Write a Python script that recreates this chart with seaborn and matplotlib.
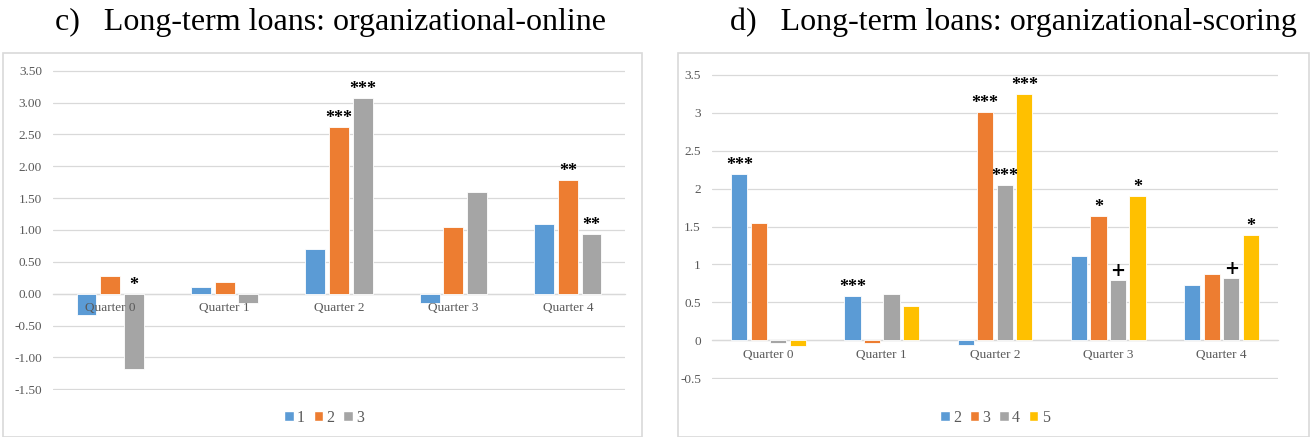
import pandas as pd
import matplotlib.pyplot as plt
import seaborn as sns
from matplotlib.patches import Patch, Rectangle

sns.set_theme(style="white")
plt.rcParams["font.family"] = ["Liberation Serif", "DejaVu Serif"]

quarters = ["Quarter 0", "Quarter 1", "Quarter 2", "Quarter 3", "Quarter 4"]

# panel c) organizational-online
online_series = ["1", "2", "3"]
online_values = {
    "1": [-0.34, 0.11, 0.70, -0.14, 1.09],
    "2": [0.27, 0.19, 2.61, 1.05, 1.79],
    "3": [-1.19, -0.14, 3.07, 1.59, 0.94],
}
online_stars = {
    "1": ["", "", "", "", ""],
    "2": ["", "", "***", "", "**"],
    "3": ["*", "", "***", "", "**"],
}
online_ticks = [-1.5, -1.0, -0.5, 0.0, 0.5, 1.0, 1.5, 2.0, 2.5, 3.0, 3.5]

# panel d) organizational-scoring
scoring_series = ["2", "3", "4", "5"]
scoring_values = {
    "2": [2.19, 0.59, -0.06, 1.11, 0.73],
    "3": [1.54, -0.03, 3.01, 1.64, 0.87],
    "4": [-0.03, 0.61, 2.04, 0.80, 0.82],
    "5": [-0.07, 0.45, 3.25, 1.90, 1.39],
}
scoring_stars = {
    "2": ["***", "***", "", "", ""],
    "3": ["", "", "***", "*", ""],
    "4": ["", "", "***", "+", "+"],
    "5": ["", "", "***", "*", "*"],
}
scoring_ticks = [-0.5, 0, 0.5, 1, 1.5, 2, 2.5, 3, 3.5]

COLORS = ["#5B9BD5", "#ED7D31", "#A5A5A5", "#FFC000"]
GRID = "#D9D9D9"
TXT = "#595959"


def long_df(series, values):
    rows = []
    for s in series:
        for q, v in zip(quarters, values[s]):
            rows.append({"quarter": q, "series": s, "value": v})
    return pd.DataFrame(rows)


def draw_panel(ax, series, values, stars, ticks, fmt, width, gap):
    df = long_df(series, values)
    palette = dict(zip(series, COLORS[:len(series)]))
    sns.barplot(
        data=df, x="quarter", y="value", hue="series",
        order=quarters, hue_order=series, palette=palette,
        width=width, gap=gap, errorbar=None, legend=False,
        edgecolor="white", linewidth=0.6, saturation=1, ax=ax
    )
    ax.set_ylim(ticks[0] - 0.012, ticks[-1] + 0.012)
    ax.set_yticks(ticks)
    ax.set_yticklabels([fmt.format(t) for t in ticks], color=TXT, fontsize=9.5)
    ax.yaxis.grid(True, color=GRID, linewidth=0.9)
    ax.set_axisbelow(True)
    ax.xaxis.set_zorder(5)
    for side in ["top", "right", "left"]:
        ax.spines[side].set_visible(False)
    ax.spines["bottom"].set_position(("data", 0))
    ax.spines["bottom"].set_color(GRID)
    ax.spines["bottom"].set_linewidth(0.9)
    ax.spines["bottom"].set_zorder(0.5)
    ax.tick_params(axis="both", length=0)
    ax.tick_params(axis="x", labelsize=9.5, labelcolor=TXT, pad=6)
    ax.tick_params(axis="y", pad=8)
    ax.set_xlabel("")
    ax.set_ylabel("")
    for s, cont in zip(series, ax.containers):
        for bar, lab in zip(cont, stars[s]):
            if not lab:
                continue
            x = bar.get_x() + bar.get_width() / 2
            y = max(bar.get_height(), 0)
            ax.annotate(
                lab, (x, y), xytext=(0, 0), textcoords="offset points",
                ha="center", va="bottom", fontsize=13, fontweight="bold",
                color="black", family="DejaVu Serif" if lab == "+" else None
            )
    return palette


W, H = 1311, 437
fig = plt.figure(figsize=(W / 100, H / 100), dpi=100)

# chart borders
fig.patches.append(Rectangle((3 / W, 0.0), 639 / W, 1 - 53 / H, transform=fig.transFigure,
                             fill=False, edgecolor=GRID, linewidth=1.2))
fig.patches.append(Rectangle((678 / W, 0.0), 631 / W, 1 - 53 / H, transform=fig.transFigure,
                             fill=False, edgecolor=GRID, linewidth=1.2))

ax1 = fig.add_axes([53 / W, 1 - 390 / H, 572 / W, 320 / H])
ax2 = fig.add_axes([712 / W, 1 - 379.3 / H, 566 / W, 305.6 / H])

pal1 = draw_panel(ax1, online_series, online_values, online_stars,
                  online_ticks, "{:.2f}", 0.62, 0.16)
pal2 = draw_panel(ax2, scoring_series, scoring_values, scoring_stars,
                  scoring_ticks, "{:g}", 0.69, 0.17)

fig.text(330 / W, 1 - 22 / H, "c)   Long-term loans: organizational-online",
         ha="center", va="center", fontsize=23, color="black")
fig.text(1013 / W, 1 - 22 / H, "d)   Long-term loans: organizational-scoring",
         ha="center", va="center", fontsize=23, color="black")

for pal, cx in [(pal1, 324), (pal2, 995)]:
    handles = [Patch(facecolor=c, label=k) for k, c in pal.items()]
    fig.legend(handles=handles, loc="center", bbox_to_anchor=(cx / W, 1 - 418 / H),
               ncol=len(handles), frameon=False, fontsize=11.5, handlelength=0.6,
               handleheight=0.6, handletextpad=0.2, columnspacing=0.55,
               labelcolor=TXT)

plt.savefig("out.png", dpi=100)
plt.close()
print("[OK] out.png")
